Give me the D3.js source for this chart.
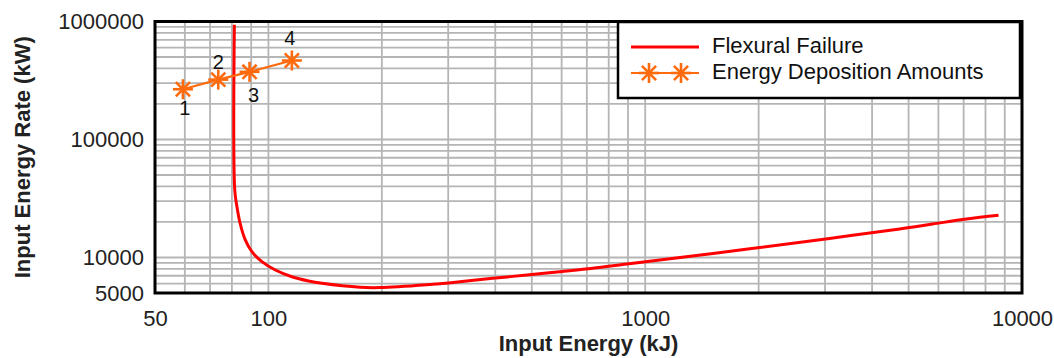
<!DOCTYPE html>
<html>
<head>
<meta charset="utf-8">
<script src="https://cdn.jsdelivr.net/npm/d3@7"></script>
<style>
  html, body { margin: 0; padding: 0; background: #fff; }
  svg { display: block; font-family: "Liberation Sans", Arial, sans-serif; }
</style>
</head>
<body>
<svg id="chart" width="1054" height="358"></svg>
<script>
// Flexural failure boundary (input energy kJ, input energy rate kW)
const flexEnergy = [81.2, 81.4, 82.5, 84.1, 86.8, 90.4, 96.1, 104.3, 115.4, 127.8, 138.7, 175, 198, 263, 322, 394, 485, 594, 726, 893, 1093, 1894, 3085, 4735, 5790, 7125, 8665];
const flexRate   = [940000, 37300, 26900, 19500, 14100, 11200, 9210, 7830, 6870, 6320, 6040, 5590, 5560, 5880, 6230, 6660, 7100, 7580, 8100, 8810, 9520, 11850, 14510, 17430, 19200, 21200, 22780];

// Energy deposition amounts
const depLabels = ["1", "2", "3", "4"];
const depEnergy = [59.3, 73.6, 89.1, 115.4];
const depRate   = [266600, 321700, 374500, 467000];

// Axis tick labels
const xTickValues = [50, 100, 1000, 10000];
const yTickValues = [5000, 10000, 100000, 1000000];

const seriesNames = ["Flexural Failure", "Energy Deposition Amounts"];

const W = 1054, H = 358;
const m = { left: 155, right: 32, top: 21.5, bottom: 65 };
const red = "#ff0000", orange = "#ff6a0d", gridColor = "#b5b5b5";

const svg = d3.select("#chart");

const x = d3.scaleLog().domain([50, 10000]).range([m.left, W - m.right]);
const y = d3.scaleLog().domain([5000, 1000000]).range([H - m.bottom, m.top]);

// grid
const grid = svg.append("g").attr("stroke", gridColor).attr("stroke-width", 1.8);
grid.selectAll("line.gx").data(x.ticks()).join("line")
  .attr("x1", d => x(d)).attr("x2", d => x(d))
  .attr("y1", m.top).attr("y2", H - m.bottom);
grid.selectAll("line.gy").data(y.ticks()).join("line")
  .attr("x1", m.left).attr("x2", W - m.right)
  .attr("y1", d => y(d)).attr("y2", d => y(d));

// axes (labels only)
const xAxis = svg.append("g")
  .attr("transform", `translate(0,${H - m.bottom})`)
  .call(d3.axisBottom(x).tickValues(xTickValues).tickSize(0).tickPadding(17).tickFormat(d3.format("d")));
xAxis.select(".domain").remove();
xAxis.selectAll("text").attr("font-size", 22).attr("fill", "#222").style("font-family", "Liberation Sans, Arial, sans-serif");

const yAxis = svg.append("g")
  .attr("transform", `translate(${m.left},0)`)
  .call(d3.axisLeft(y).tickValues(yTickValues).tickSize(0).tickPadding(11).tickFormat(d3.format("d")));
yAxis.select(".domain").remove();
yAxis.selectAll("text").attr("font-size", 22).attr("fill", "#222").style("font-family", "Liberation Sans, Arial, sans-serif");

// axis titles
svg.append("text")
  .attr("x", (m.left + W - m.right) / 2).attr("y", 351)
  .attr("text-anchor", "middle").attr("font-size", 22).attr("font-weight", "bold").attr("fill", "#222")
  .text("Input Energy (kJ)");
svg.append("text")
  .attr("transform", `translate(30,${(m.top + H - m.bottom) / 2}) rotate(-90)`)
  .attr("text-anchor", "middle").attr("font-size", 22).attr("font-weight", "bold").attr("fill", "#222")
  .text("Input Energy Rate (kW)");

// flexural failure curve
const flexData = flexEnergy.map((e, i) => [e, flexRate[i]]);
svg.append("path")
  .datum(flexData)
  .attr("fill", "none").attr("stroke", red).attr("stroke-width", 3)
  .attr("d", d3.line().x(d => x(d[0])).y(d => y(d[1])).curve(d3.curveCatmullRom.alpha(0.5)));

// star marker
function star(g, cx, cy, r) {
  const s = g.append("g").attr("transform", `translate(${cx},${cy})`)
    .attr("stroke", orange).attr("stroke-width", 2.6).attr("stroke-linecap", "butt");
  const k = r * Math.SQRT1_2;
  s.append("line").attr("x1", 0).attr("x2", 0).attr("y1", -r).attr("y2", r);
  s.append("line").attr("x1", -r).attr("x2", r).attr("y1", 0).attr("y2", 0);
  s.append("line").attr("x1", -k).attr("x2", k).attr("y1", -k).attr("y2", k);
  s.append("line").attr("x1", -k).attr("x2", k).attr("y1", k).attr("y2", -k);
}

// energy deposition series
const depData = depEnergy.map((e, i) => ({ e, r: depRate[i], label: depLabels[i] }));
svg.append("path")
  .datum(depData)
  .attr("fill", "none").attr("stroke", orange).attr("stroke-width", 2.2)
  .attr("d", d3.line().x(d => x(d.e)).y(d => y(d.r)));
const markers = svg.append("g");
depData.forEach(d => star(markers, x(d.e), y(d.r), 10));

// point labels alternate below / above
const labelOffsets = [[2, 26], [0, -11], [4, 30], [-2, -16]];
svg.append("g").selectAll("text").data(depData).join("text")
  .attr("x", (d, i) => x(d.e) + labelOffsets[i][0])
  .attr("y", (d, i) => y(d.r) + labelOffsets[i][1])
  .attr("text-anchor", "middle").attr("font-size", 20).attr("fill", "#111")
  .text(d => d.label);

// plot frame
svg.append("rect")
  .attr("x", m.left).attr("y", m.top)
  .attr("width", W - m.right - m.left).attr("height", H - m.bottom - m.top)
  .attr("fill", "none").attr("stroke", "#000").attr("stroke-width", 3);

// legend
const lg = svg.append("g");
lg.append("rect").attr("x", 618).attr("y", 22).attr("width", 402).attr("height", 76)
  .attr("fill", "#fff").attr("stroke", "#000").attr("stroke-width", 2.5);
lg.append("line").attr("x1", 631).attr("x2", 699).attr("y1", 47).attr("y2", 47)
  .attr("stroke", red).attr("stroke-width", 3);
lg.append("line").attr("x1", 631).attr("x2", 699).attr("y1", 73).attr("y2", 73)
  .attr("stroke", orange).attr("stroke-width", 2.2);
star(lg, 649, 73, 10);
star(lg, 681, 73, 10);
lg.selectAll("text.lt").data(seriesNames).join("text")
  .attr("x", 712).attr("y", (d, i) => 53 + i * 26)
  .attr("font-size", 22).attr("fill", "#111")
  .text(d => d);
</script>
</body>
</html>
